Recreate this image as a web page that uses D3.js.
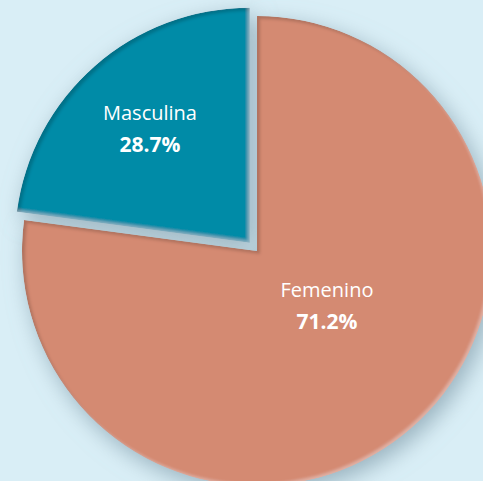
<!DOCTYPE html>
<html>
<head>
<meta charset="utf-8">
<script src="https://cdn.jsdelivr.net/npm/d3@7"></script>
<style>
  html, body { margin: 0; padding: 0; background: #d9eef6; }
  svg { display: block; }
</style>
</head>
<body>
<script>
// Categories and printed percentages
const categories = ["Femenino", "Masculina"];
const labelValues = [71.2, 28.7];
// Slice shares as drawn in the reference picture
const sliceShares = [77.1, 22.9];
const colors = ["#d48a72", "#008ba7"];

const W = 483, H = 481;
const cx = 257, cy = 251, R = 235;
const explode = [0, 11];

const svg = d3.select("body").append("svg").attr("width", W).attr("height", H);
svg.append("rect").attr("width", W).attr("height", H).attr("fill", "#d9eef6");

const defs = svg.append("defs");
// drop shadow
const ds = defs.append("filter").attr("id", "drop").attr("x", "-30%").attr("y", "-30%").attr("width", "160%").attr("height", "160%");
ds.append("feGaussianBlur").attr("in", "SourceAlpha").attr("stdDeviation", 11).attr("result", "b");
ds.append("feOffset").attr("in", "b").attr("dx", 5).attr("dy", 7).attr("result", "o");
ds.append("feFlood").attr("flood-color", "#8ea8b5").attr("flood-opacity", 0.85);
ds.append("feComposite").attr("in2", "o").attr("operator", "in");

// inner bevel
const bv = defs.append("filter").attr("id", "bevel").attr("x", "-5%").attr("y", "-5%").attr("width", "110%").attr("height", "110%");
bv.append("feGaussianBlur").attr("in", "SourceAlpha").attr("stdDeviation", 1.8).attr("result", "blur");
bv.append("feOffset").attr("in", "blur").attr("dx", 2.5).attr("dy", 2.5).attr("result", "o1");
bv.append("feComposite").attr("in", "SourceAlpha").attr("in2", "o1").attr("operator", "out").attr("result", "e1");
bv.append("feFlood").attr("flood-color", "#000").attr("flood-opacity", 0.35);
bv.append("feComposite").attr("in2", "e1").attr("operator", "in").attr("result", "sh");
bv.append("feOffset").attr("in", "blur").attr("dx", -2.5).attr("dy", -2.5).attr("result", "o2");
bv.append("feComposite").attr("in", "SourceAlpha").attr("in2", "o2").attr("operator", "out").attr("result", "e2");
bv.append("feFlood").attr("flood-color", "#fff").attr("flood-opacity", 0.25);
bv.append("feComposite").attr("in2", "e2").attr("operator", "in").attr("result", "hl");
const m = bv.append("feMerge").attr("result", "mg");
m.append("feMergeNode").attr("in", "SourceGraphic");
m.append("feMergeNode").attr("in", "sh");
m.append("feMergeNode").attr("in", "hl");
bv.append("feComposite").attr("in", "mg").attr("in2", "SourceAlpha").attr("operator", "in");

const pie = d3.pie().sort(null).value(d => d.share);
const data = categories.map((c, i) => ({ name: c, share: sliceShares[i], label: labelValues[i], color: colors[i], ex: explode[i] }));
const arcs = pie(data);
const arc = d3.arc().innerRadius(0).outerRadius(R);

function offset(a) {
  const mid = (a.startAngle + a.endAngle) / 2;
  return [Math.sin(mid) * a.data.ex, -Math.cos(mid) * a.data.ex];
}

const g = svg.append("g").attr("transform", `translate(${cx},${cy})`);
// shadows first
g.selectAll("path.shadow").data(arcs).join("path")
  .attr("class", "shadow")
  .attr("d", arc)
  .attr("transform", d => `translate(${offset(d)})`)
  .attr("fill", "#000")
  .attr("filter", "url(#drop)");
g.selectAll("path.slice").data(arcs).join("path")
  .attr("class", "slice")
  .attr("d", arc)
  .attr("transform", d => `translate(${offset(d)})`)
  .attr("fill", d => d.data.color)
  .attr("filter", "url(#bevel)");

// labels
const labelPos = [[70, 46], [-107, -131]];
const lg = g.selectAll("g.lbl").data(arcs).join("g")
  .attr("class", "lbl")
  .attr("transform", (d, i) => `translate(${labelPos[i]})`)
  .attr("text-anchor", "middle")
  .attr("fill", "#fff")
  .style("font-family", "'Open Sans', sans-serif");
lg.append("text").attr("y", 0).style("font-size", "20px").text(d => d.data.name);
lg.append("text").attr("y", 32).style("font-size", "21px").style("font-weight", "bold")
  .text(d => d.data.label.toFixed(1) + "%");
</script>
</body>
</html>
